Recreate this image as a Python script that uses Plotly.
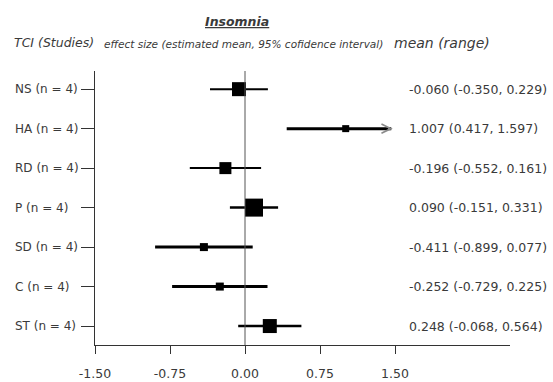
import plotly.graph_objects as go

# Forest plot data: TCI dimensions, pooled effect size and 95% CI
labels = ["NS (n = 4)", "HA (n = 4)", "RD (n = 4)", "P (n = 4)", "SD (n = 4)", "C (n = 4)", "ST (n = 4)"]
means = [-0.060, 1.007, -0.196, 0.090, -0.411, -0.252, 0.248]
lower = [-0.350, 0.417, -0.552, -0.151, -0.899, -0.729, -0.068]
upper = [0.229, 1.597, 0.161, 0.331, 0.077, 0.225, 0.564]
weights = [14, 7, 12, 18, 8, 8, 14]          # square size (study weight)
line_w = [2, 3, 2, 2.5, 3, 3, 2.5]
x_ticks = [-1.50, -0.75, 0.00, 0.75, 1.50]
x_max_shown = 1.5                            # CIs beyond this are cut with an arrow

TXT = "#3a3a3a"
FONT = "DejaVu Sans"

rows = list(range(len(labels)))
fig = go.Figure()

# CI lines (one trace per row so each keeps its own thickness)
for i in rows:
    hi = min(upper[i], x_max_shown * 0.975)
    fig.add_trace(go.Scatter(
        x=[means[i]], y=[i], mode="markers",
        marker=dict(symbol="square", size=0.1, color="black", opacity=1),
        error_x=dict(type="data", symmetric=False,
                     array=[hi - means[i]], arrayminus=[means[i] - lower[i]],
                     thickness=line_w[i], width=0, color="black"),
        showlegend=False, hoverinfo="skip"))

# Weighted squares at the point estimates
fig.add_trace(go.Scatter(
    x=means, y=rows, mode="markers",
    marker=dict(symbol="square", size=weights, color="#000000", opacity=1,
                line=dict(width=0)),
    showlegend=False))

annotations = []
# Arrow heads for truncated intervals
for i in rows:
    if upper[i] > x_max_shown:
        annotations.append(dict(
            x=x_max_shown * 0.985, y=i, xref="x", yref="y",
            ax=x_max_shown * 0.95, ay=i, axref="x", ayref="y",
            showarrow=True, arrowhead=5, arrowwidth=0.7, arrowsize=2.6,
            arrowcolor="#8a8a8a", text=""))

# Row labels (left aligned) and estimate text (right column)
for i in rows:
    annotations.append(dict(x=-0.198, y=i, xref="paper", yref="y", text=labels[i],
                            xanchor="left", yanchor="middle", showarrow=False,
                            font=dict(family=FONT, size=12, color=TXT)))
    annotations.append(dict(x=0.751, y=i, xref="paper", yref="y",
                            text=f"{means[i]:.3f} ({lower[i]:.3f}, {upper[i]:.3f})",
                            xanchor="left", yanchor="middle", showarrow=False,
                            font=dict(family=FONT, size=12.5, color=TXT)))

# Headers
annotations += [
    dict(x=0.342, y=1.18, xref="paper", yref="paper", text="<b><i><u>Insomnia</u></i></b>",
         xanchor="center", yanchor="middle", showarrow=False,
         font=dict(family=FONT, size=12.5, color=TXT)),
    dict(x=-0.2, y=1.104, xref="paper", yref="paper", text="<i>TCI (Studies)</i>",
         xanchor="left", yanchor="middle", showarrow=False,
         font=dict(family=FONT, size=12.5, color=TXT)),
    dict(x=0.017, y=1.097, xref="paper", yref="paper",
         text="<i>effect size (estimated mean, 95% cofidence interval)</i>",
         xanchor="left", yanchor="middle", showarrow=False,
         font=dict(family=FONT, size=10.5, color=TXT)),
    dict(x=0.716, y=1.104, xref="paper", yref="paper", text="<i>mean (range)</i>",
         xanchor="left", yanchor="middle", showarrow=False,
         font=dict(family=FONT, size=14, color=TXT)),
]

# Reference line at zero
fig.add_shape(type="line", x0=0, x1=0, y0=0, y1=1, xref="x", yref="paper",
              line=dict(color="#555555", width=1))

fig.update_layout(
    width=553, height=382,
    margin=dict(l=95, r=43, t=71, b=37, autoexpand=False),
    paper_bgcolor="white", plot_bgcolor="white",
    annotations=annotations,
    xaxis=dict(range=[-1.5, 2.65], tickvals=x_ticks,
               ticktext=[f"{v:.2f}" for v in x_ticks],
               showgrid=False, zeroline=False, showline=True,
               linecolor="#333333", linewidth=1.2,
               ticks="outside", ticklen=8, tickcolor="#333333",
               ticklabelstandoff=9, automargin=False,
               tickfont=dict(family=FONT, size=12.5, color=TXT)),
    yaxis=dict(range=[6.48, -0.46], tickvals=rows, ticktext=[""] * len(rows),
               showgrid=False, zeroline=False, showline=True,
               linecolor="#333333", linewidth=1.2, automargin=False,
               ticks="outside", ticklen=13, tickcolor="#333333"),
)

fig.write_html("out.html")
